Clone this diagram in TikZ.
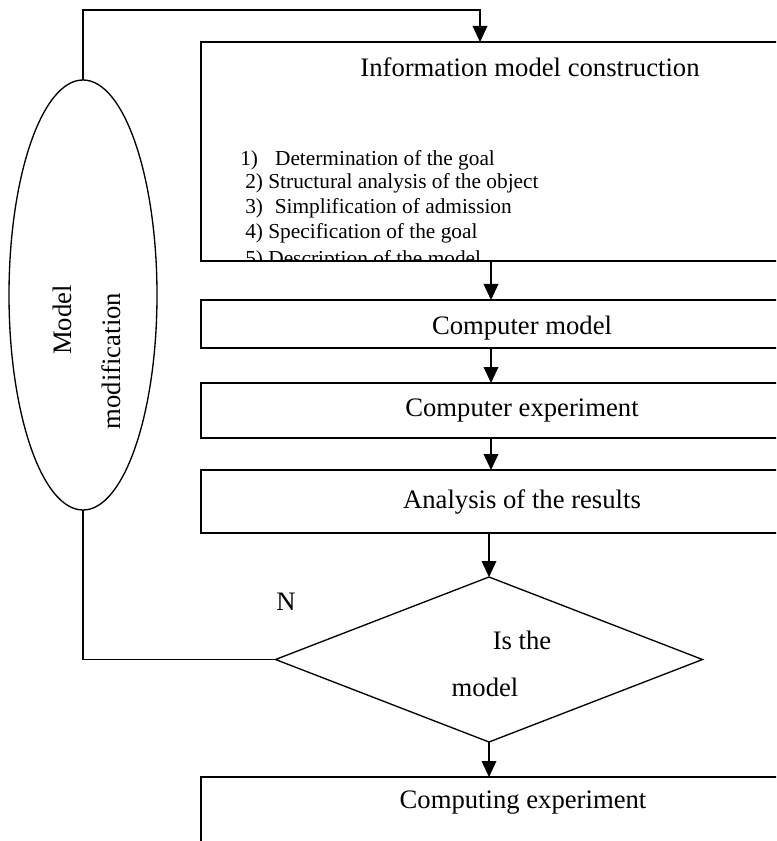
\documentclass[tikz,border=0pt]{standalone}
\usepackage{fontspec}
\setmainfont{Liberation Serif}
\usetikzlibrary{arrows.meta,shapes.geometric,positioning}

\begin{document}
\begin{tikzpicture}[
  x=0.75pt, y=-0.75pt,
  stage/.style={rectangle, draw, line width=1.4pt, minimum width=481.5pt,
                minimum height=#1, inner sep=0pt, outer sep=0pt,
                anchor=north west, font=\fontsize{20}{24}\selectfont},
  decide/.style={diamond, draw, line width=1pt, minimum width=320.25pt,
                 minimum height=123.75pt, inner sep=0pt, outer sep=0pt},
  modif/.style={ellipse, draw, line width=1pt, minimum width=111pt,
                minimum height=322.5pt, inner sep=0pt, outer sep=0pt},
  txt/.style={font=\fontsize{20}{24}\selectfont, inner sep=0pt},
  goal/.style={font=\fontsize{16}{18}\selectfont, inner sep=0pt,
               anchor=base west},
  arr/.style={-{Triangle[length=12pt,width=11pt]}, line width=1.1pt},
  link/.style={line width=1.1pt}
]
  \useasboundingbox (0,0) rectangle (776,841);
  \clip (0,0) rectangle (776,841);
  \fill[white] (0,0) rectangle (776,841);

  % first stage with its list of steps
  \node[stage=164.25pt] (info) at (201,42) {};
  \node[txt, anchor=base] (infot) at (530,77) {Information model construction};
  \begin{scope}
    \clip (info.north west) rectangle ([yshift=0.7pt]info.south east);
    \node[goal] (goal1) at (240,166) {1)\hspace{0.8em}Determination of the goal};
    \node[goal] (goal2) at (245,189) {2) Structural analysis of the object};
    \node[goal] (goal3) at (245,214) {3)\hspace{0.55em}Simplification of admission};
    \node[goal] (goal4) at (245,239) {4) Specification of the goal};
    \node[goal] (goal5) at (245,265.5) {5) Description of the model};
  \end{scope}

  % further stages
  \node[stage=36pt, text height=20pt, text depth=4pt] (cmodel) at (201,300) {Computer model};
  \node[stage=41.25pt] (cexp) at (201,383) {Computer experiment};
  \node[stage=47.25pt] (analysis) at (201,470) {Analysis of the results};

  % decision
  \node[decide] (check) at (489,659.5) {};
  \node[txt] (checkt1) at (522,640) {Is the};
  \node[txt] (checkt2) at (485,687) {model};
  \node[txt] (no) at (286,602) {N};

  % last stage
  \node[stage=75pt] (comp) at (201,777) {};
  \node[txt] (compt) at (523,803) {Computing experiment};

  % modification loop
  \node[modif] (modify) at (83,295) {};
  \node[txt, rotate=90] (modt1) at (62,320) {Model};
  \node[txt, rotate=90] (modt2) at (111,361) {modification};

  \coordinate (looptop) at (480,10);
  \coordinate (ax) at (491,0);

  \draw[link] (check.west) -| (modify.south);
  \draw[arr] (modify.north) |- (looptop) -- (looptop |- info.north);
  \draw[arr] (info.south -| ax) -- (cmodel.north -| ax);
  \draw[arr] (cmodel.south -| ax) -- (cexp.north -| ax);
  \draw[arr] (cexp.south -| ax) -- (analysis.north -| ax);
  \draw[arr] (analysis.south -| check.north) -- (check.north);
  \draw[arr] (check.south) -- (check.south |- comp.north);
\end{tikzpicture}
\end{document}
